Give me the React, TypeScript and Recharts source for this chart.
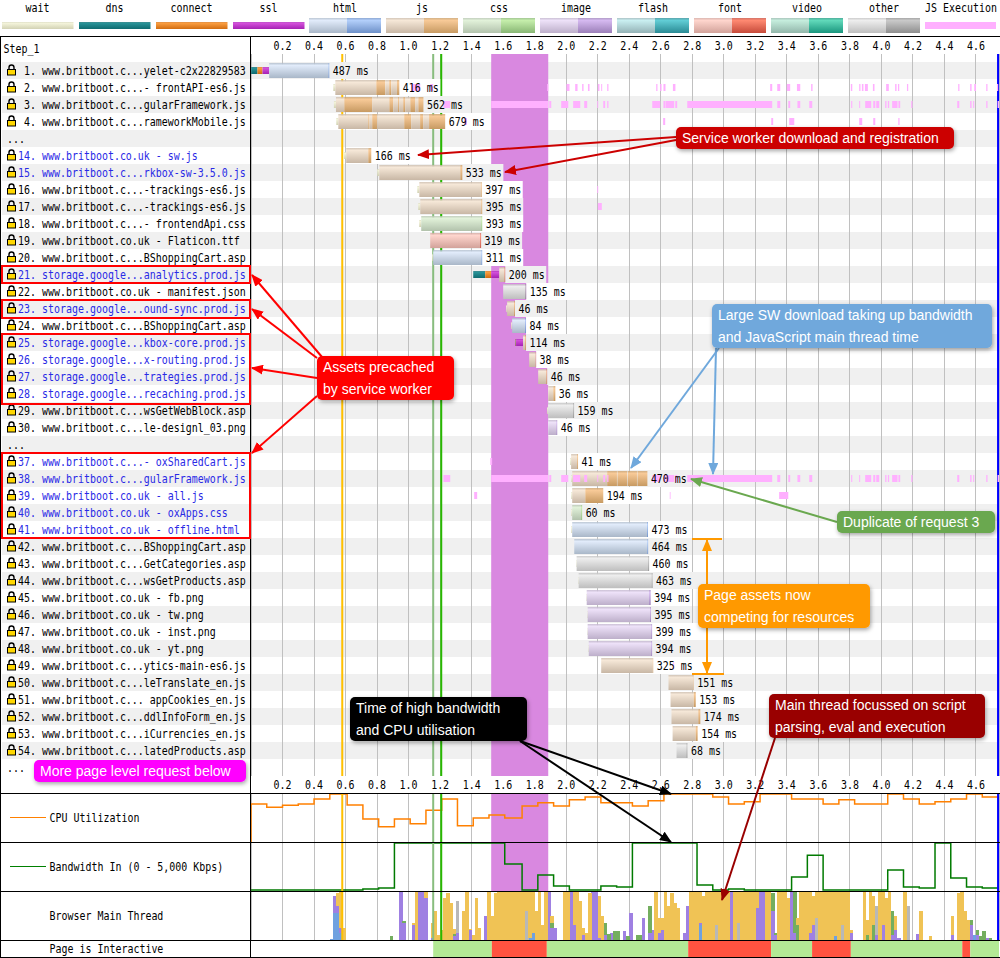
import { Bar, CartesianGrid, ComposedChart, Line, ReferenceArea, ReferenceLine, XAxis, YAxis } from 'recharts'

const axisMax = 4746
const timeTicks = [200, 400, 600, 800, 1000, 1200, 1400, 1600, 1800, 2000, 2200, 2400, 2600, 2800, 3000, 3200, 3400, 3600, 3800, 4000, 4200, 4400, 4600]

const legendThin = ['wait', 'dns', 'connect', 'ssl']
const legendTall = ['html', 'js', 'css', 'image', 'flash', 'font', 'video', 'other']

const rowLabels = [
  ' 1. www.britboot.c...yelet-c2x22829583', ' 2. www.britboot.c...- frontAPI-es6.js', ' 3. www.britboot.c...gularFramework.js', ' 4. www.britboot.c...rameworkMobile.js',
  '...',
  '14. www.britboot.co.uk - sw.js', '15. www.britboot.c...rkbox-sw-3.5.0.js', '16. www.britboot.c...-trackings-es6.js', '17. www.britboot.c...-trackings-es6.js',
  '18. www.britboot.c...- frontendApi.css', '19. www.britboot.co.uk - Flaticon.ttf', '20. www.britboot.c...BShoppingCart.asp', '21. storage.google...analytics.prod.js',
  '22. www.britboot.co.uk - manifest.json', '23. storage.google...ound-sync.prod.js', '24. www.britboot.c...BShoppingCart.asp', '25. storage.google...kbox-core.prod.js',
  '26. storage.google...x-routing.prod.js', '27. storage.google...trategies.prod.js', '28. storage.google...recaching.prod.js', '29. www.britboot.c...wsGetWebBlock.asp',
  '30. www.britboot.c...le-designl_03.png',
  '...',
  '37. www.britboot.c...- oxSharedCart.js', '38. www.britboot.c...gularFramework.js', '39. www.britboot.co.uk - all.js', '40. www.britboot.co.uk - oxApps.css',
  '41. www.britboot.co.uk - offline.html', '42. www.britboot.c...BShoppingCart.asp', '43. www.britboot.c...GetCategories.asp', '44. www.britboot.c...wsGetProducts.asp',
  '45. www.britboot.co.uk - fb.png', '46. www.britboot.co.uk - tw.png', '47. www.britboot.co.uk - inst.png', '48. www.britboot.co.uk - yt.png',
  '49. www.britboot.c...ytics-main-es6.js', '50. www.britboot.c...leTranslate_en.js', '51. www.britboot.c... appCookies_en.js', '52. www.britboot.c...ddlInfoForm_en.js',
  '53. www.britboot.c...iCurrencies_en.js', '54. www.britboot.c...latedProducts.asp',
  '...',
]
const serviceWorkerRows = [14, 15, 21, 23, 25, 26, 27, 28, 37, 38, 39, 40, 41]

const rowKinds = [
  'html', 'js', 'js', 'js', '', 'js', 'js', 'js', 'js', 'css', 'font', 'html', 'js', 'other', 'js', 'html', 'js', 'js', 'js', 'js', 'other',
  'image', '', 'js', 'js', 'js', 'css', 'html', 'html', 'other', 'other', 'image', 'image', 'image', 'image', 'js', 'js', 'js', 'js', 'js', 'other', '',
]
const durations = [
  '487 ms', '416 ms', '562 ms', '679 ms', '', '166 ms', '533 ms', '397 ms', '395 ms', '393 ms', '319 ms', '311 ms', '200 ms', '135 ms', '46 ms', '84 ms', '114 ms', '38 ms', '46 ms', '36 ms', '159 ms',
  '46 ms', '', '41 ms', '470 ms', '194 ms', '60 ms', '473 ms', '464 ms', '460 ms', '463 ms', '394 ms', '395 ms', '399 ms', '394 ms', '325 ms', '151 ms', '153 ms', '174 ms', '154 ms', '68 ms', '',
]
const requestStart = [
  1, 522, 526, 541, 0, 591, 801, 1055, 1061, 1067, 1137, 1150, 1410, 1600, 1619, 1651, 1676, 1765, 1822, 1886, 1879,
  1886, 0, 2025, 2032, 2032, 2032, 2032, 2051, 2063, 2076, 2127, 2133, 2133, 2140, 2222, 2649, 2662, 2668, 2675, 2700, 0,
]
const waitMs = [
  0, 13, 13, 13, 0, 13, 13, 13, 13, 13, 0, 6, 0, 0, 6, 6, 0, 0, 0, 0, 6,
  0, 0, 6, 6, 6, 6, 6, 0, 3, 3, 3, 3, 3, 3, 0, 0, 0, 0, 0, 0, 0,
]
const dnsMs = [40, 0, 0, 0, 0, 0, 0, 0, 0, 0, 0, 0, 76, 0, 0, 0, 3, 0, 0, 0, 0, 0, 0, 0, 0, 0, 0, 0, 0, 0, 0, 0, 0, 0, 0, 0, 0, 0, 0, 0, 0, 0]
const connectMs = [32, 0, 0, 0, 0, 0, 0, 0, 0, 0, 0, 0, 38, 0, 0, 0, 3, 0, 0, 0, 0, 0, 0, 0, 0, 0, 0, 0, 0, 0, 0, 0, 0, 0, 0, 0, 0, 0, 0, 0, 0, 0]
const sslMs = [42, 0, 0, 0, 0, 0, 0, 0, 0, 0, 0, 0, 51, 0, 0, 0, 44, 0, 0, 0, 0, 0, 0, 0, 0, 0, 0, 0, 0, 0, 0, 0, 0, 0, 0, 0, 0, 0, 0, 0, 0, 0]
// time to first byte, then download, then ttfb-coloured gaps between download chunks
const chunkMs = [
  [376, 6], [260, 57, 25, 13, 36, 15], [53, 178, 108, 25, 30, 8, 25, 13, 32, 32, 19, 32], [190, 8, 17, 32, 171, 44, 57, 19, 38, 102], [],
  [140, 19], [514, 13], [390, 6], [387, 6], [381, 6], [317, 6], [305, 6], [32, 6], [140, 6], [44, 6], [82, 6], [13, 6], [41, 3], [51, 6], [32, 13], [159, 6],
  [51, 6], [], [38, 6], [222, 62, 4, 62, 4, 57, 4, 62], [83, 114], [57, 6], [475, 6], [463, 6], [454, 6], [463, 6], [396, 10], [396, 6], [403, 6], [396, 6],
  [327, 3], [159, 2], [147, 13], [170, 13], [146, 13], [63, 6], [],
]

const frameworkExec = [
  1221, 1264, 1524, 1886, 1892, 1905, 1968, 2013, 2044, 2089, 2114, 2133, 2197, 2203, 2235, 2247, 2260, 2268, 2546, 2596, 2617, 2628, 2630, 2685, 2692, 2704, 2768, 3307,
  3339, 3358, 3409, 3421, 3467, 3485, 3542, 3561, 3808, 3815, 3859, 3865, 3897, 3935, 3948, 3961, 3967, 3986, 4024, 4032, 4041, 4049, 4068, 4102, 4108, 4119, 4189, 4197,
  4481, 4494, 4563, 4572, 4582, 4589, 4665, 4673, 4737, 4746,
]
const frontApiExec = [
  1015, 1074, 1137, 1156, 1879, 1886, 2002, 2021, 2057, 2072, 2101, 2110, 2138, 2148, 2201, 2211, 2222, 2228, 2260, 2268, 2571, 2579, 2596, 2605, 2617, 2630, 2677, 2693,
  3294, 3307, 3339, 3358, 3400, 3421, 3464, 3485, 3554, 3563, 3806, 3815, 3859, 3867, 3876, 3886, 3895, 3914, 3946, 3956, 4030, 4047, 4087, 4096, 4105, 4113, 4162, 4170,
  4487, 4495, 4563, 4572, 4589, 4600, 4665, 4673, 4733, 4741,
]
const mobileExec = [1353, 1370, 2615, 2628, 3301, 3313, 3415, 3447, 3859, 3878, 3948, 3961, 4107, 4115]
// row position -> [start, end, start, end, ...] of JS execution
const jsExecRows = [
  [1, frontApiExec], [2, frameworkExec], [3, mobileExec], [7, [2197, 2203]], [8, [2201, 2226]], [23, [1518, 1530]], [24, frameworkExec],
  [25, [1416, 1435, 2657, 2662, 3351, 3409]], [35, [2679, 2685]],
]

const sampleTimes = [0, 0, 100, 200, 300, 400, 500, 610, 710, 810, 910, 1010, 1110, 1210, 1310, 1410, 1510, 1610, 1720, 1820, 1920, 2020, 2120, 2220, 2320, 2420, 2520, 2620, 2720, 2830, 2930, 3030, 3130, 3230, 3330, 3430, 3530, 3630, 3730, 3830, 3930, 4040, 4140, 4240, 4340, 4440, 4540, 4640, 4746]
const cpuValues = [0, 77.5, 71, 75, 77.5, 88, 98, 75.5, 47, 31, 47, 37, 65, 88, 33, 49, 55, 49, 73.5, 80, 73.5, 86, 92, 80, 80, 73.5, 84, 98, 98, 98, 92, 77.5, 82, 98, 98, 88, 88, 77.5, 86, 77.5, 77.5, 98, 88, 77.5, 82, 88, 98, 92, 92]
const bandwidthValues = [100, 100, 100, 100, 100, 100, 100, 100, 200, 300, 4900, 4900, 4900, 4900, 4900, 4900, 4900, 2750, 100, 1630, 510, 100, 100, 510, 410, 4900, 4900, 4900, 4900, 610, 100, 200, 100, 100, 100, 1430, 3640, 100, 100, 100, 100, 2140, 410, 300, 4900, 1330, 410, 300, 300]

// main thread load, [20ms bin, percent]
const htmlLoad = [[25, 3], [26, 55], [27, 55], [28, 15], [88, 5], [89, 15], [142, 30], [185, 8], [229, 10]]
const layoutLoad = [[26, 35], [27, 15], [28, 10], [47, 100], [48, 35], [51, 30], [53, 100], [54, 100], [55, 85], [57, 5], [64, 8], [65, 15], [69, 20], [74, 50], [94, 100], [95, 25], [96, 25], [101, 100], [102, 30], [105, 10], [108, 100], [109, 100], [110, 5], [112, 10], [114, 15], [118, 18], [120, 55], [124, 45], [126, 15], [127, 20], [129, 15], [130, 20], [137, 15], [138, 70], [142, 5], [152, 100], [160, 65], [161, 100], [162, 100], [165, 60], [166, 10], [171, 100], [172, 15], [177, 15], [178, 30], [190, 15], [198, 10], [200, 30], [203, 10], [204, 20], [205, 5], [211, 12], [222, 10], [228, 30], [230, 10], [233, 5]]
const paintLoad = [[44, 8], [48, 3], [64, 5], [95, 10], [112, 25], [113, 12], [115, 18], [116, 18], [119, 8], [122, 10], [123, 10], [126, 55], [165, 35], [166, 5], [172, 85], [173, 30], [195, 10], [197, 30], [203, 50], [228, 10], [230, 10], [231, 8], [232, 18], [234, 5]]
const otherLoad = [[65, 65], [87, 60], [147, 30], [154, 35], [179, 45], [187, 30], [198, 60], [208, 70]]
const scriptLoad = [[27, 25], [28, 75], [29, 25], [51, 5], [52, 100], [55, 15], [57, 30], [58, 60], [59, 10], [60, 20], [61, 85], [62, 95], [63, 75], [64, 10], [67, 60], [68, 100], [69, 3], [70, 10], [71, 85], [72, 25], [75, 100], [76, 50], [77, 95], [78, 100], [79, 100], [80, 100], [81, 98], [82, 97], [83, 100], [84, 100], [85, 100], [86, 100], [87, 40], [88, 95], [89, 85], [90, 60], [91, 100], [92, 30], [93, 100], [95, 15], [99, 100], [100, 100], [102, 70], [103, 100], [104, 80], [105, 15], [106, 15], [107, 95], [110, 85], [111, 50], [128, 100], [129, 30], [130, 25], [131, 100], [132, 70], [133, 95], [134, 75], [135, 65], [139, 100], [140, 100], [141, 100], [142, 65], [143, 90], [144, 100], [145, 100], [146, 100], [147, 70], [148, 100], [149, 100], [150, 100], [151, 100], [153, 100], [154, 65], [155, 100], [156, 100], [157, 100], [158, 100], [159, 100], [160, 35], [163, 100], [164, 100], [167, 100], [168, 100], [169, 100], [170, 85], [173, 15], [174, 100], [175, 100], [176, 100], [177, 85], [178, 60], [179, 55], [180, 100], [181, 100], [182, 100], [183, 100], [184, 100], [185, 92], [186, 100], [187, 70], [188, 100], [189, 100], [190, 5], [194, 100], [195, 30], [196, 100], [197, 60], [199, 100], [200, 70], [201, 85], [202, 100], [204, 30], [207, 100], [212, 60], [215, 8], [222, 40], [224, 95], [225, 100], [226, 60], [227, 40]]

const interactiveSpans = [1156, 372, 349, 897, 526, 260, 246, 707, 51, 182]
const interactiveColors = ['none', '#b3e995', '#ff5340', '#b3e995', '#ff5340', '#b3e995', '#ff5340', '#b3e995', '#ff5340', '#b3e995']

const thinKeys = ['wait', 'dns', 'connect', 'ssl']
const chunkKeys = ['c0', 'c1', 'c2', 'c3', 'c4', 'c5', 'c6', 'c7', 'c8', 'c9', 'c10', 'c11']

const rowTable = rowLabels.map((label, i) => {
  const row: any = {
    key: i, label, kind: rowKinds[i], duration: durations[i], gap: requestStart[i], wait: waitMs[i], dns: dnsMs[i], connect: connectMs[i], ssl: sslMs[i],
    band: i % 2 === 0 ? axisMax : 0,
  }
  chunkKeys.forEach((k, c) => { row[k] = chunkMs[i][c] || 0 })
  row.end = durations[i] ? requestStart[i] + waitMs[i] + dnsMs[i] + connectMs[i] + sslMs[i] + chunkMs[i].reduce((a, b) => a + b, 0) : 0
  const spans = jsExecRows.find((r) => r[0] === i)
  let last = 0
  const list: any = spans ? spans[1] : []
  for (let j = 0; j < 33; j += 1) {
    const a = list[j * 2] || 0
    const b = list[j * 2 + 1] || 0
    row[`g${j}`] = b ? a - last : 0
    row[`x${j}`] = b ? b - a : 0
    if (b) last = b
  }
  return row
})
const execKeys = Array.from({ length: 33 }, (_, j) => j)

const tickTable = timeTicks.map((t) => ({ t }))
const cpuTable = sampleTimes.map((t, i) => ({ t, cpu: cpuValues[i] }))
const bandwidthTable = sampleTimes.map((t, i) => ({ t, bandwidth: bandwidthValues[i] }))

const loadAt = (list: number[][], bin: number) => {
  const hit = list.find((p) => p[0] === bin)
  return hit ? hit[1] : 0
}
const mainTable = Array.from({ length: 237 }, (_, bin) => ({
  t: bin * 20 + 10,
  html: loadAt(htmlLoad, bin),
  layout: loadAt(layoutLoad, bin),
  paint: loadAt(paintLoad, bin),
  other: loadAt(otherLoad, bin),
  script: loadAt(scriptLoad, bin),
}))
const interactiveTable = [Object.fromEntries([['name', 'interactive'], ...interactiveSpans.map((v, i) => [`s${i}`, v])])]

const sans = { fontFamily: '"Liberation Sans", Arial, sans-serif', fontSize: 14 }
const bandColor = '#f0f0f0'

const gradients: any = {
  wait: ['#f5f5dc', '#d2d2b4'],
  dns: ['#2a9499', '#0f6b70'],
  connect: ['#fb9f42', '#d26d10'],
  ssl: ['#d552dc', '#a522b4'],
  htmlLight: ['#e2ecfb', '#a9b7c8'],
  htmlDark: ['#b4d0fb', '#6d90c8'],
  jsLight: ['#f6e8d8', '#c8b7a5'],
  jsDark: ['#f8ca98', '#c79a62'],
  cssLight: ['#e2f2da', '#b2c2ac'],
  cssDark: ['#c6efac', '#88b674'],
  imageLight: ['#eee2f9', '#bdafca'],
  imageDark: ['#d6baf1', '#9b7fb8'],
  flashLight: ['#caf0f2', '#94b2b6'],
  flashDark: ['#62ced6', '#2a8a94'],
  fontLight: ['#ffd6ce', '#d2a29a'],
  fontDark: ['#ff8a72', '#c64a3a'],
  videoLight: ['#c6eede', '#92b6aa'],
  videoDark: ['#62dabb', '#1a967e'],
  otherLight: ['#eeeeee', '#bebebe'],
  otherDark: ['#cacaca', '#8e8e8e'],
}

// the original font is tall and narrow, 6px a character, so squeeze 12px DejaVu
const Mono = ({ x, y, anchor, fill = '#000', children }: any) => (
  <text
    transform={`translate(${x} ${y}) scale(0.8306 1)`}
    textAnchor={anchor}
    fill={fill}
    fontFamily='"DejaVu Sans Mono", monospace'
    fontSize={12}
    style={{ whiteSpace: 'pre' }}
  >
    {children}
  </text>
)

const Layer = ({ top, children }: any) => <div style={{ position: 'absolute', left: 0, top }}>{children}</div>

const WaterfallLayer = ({ children }: any) => (
  <Layer top={37}>
    <ComposedChart layout="vertical" width={1000} height={756} data={rowTable} margin={{ top: 25, right: 1, bottom: 17, left: 251 }} barCategoryGap={0}>
      <XAxis type="number" hide domain={[0, axisMax]} allowDataOverflow />
      <YAxis type="category" dataKey="key" hide />
      {children}
    </ComposedChart>
  </Layer>
)

const RowLabel = ({ y, payload }: any) => {
  const row = rowTable[payload.value]
  const number = parseInt(row.label, 10)
  const even = row.key % 2 === 0
  return (
    <g>
      {even && <rect x={2} y={y - 8.5} width={248} height={17} fill={bandColor} />}
      {row.label === '...' ? (
        <Mono x={7} y={y + 4}>...</Mono>
      ) : (
        <g>
          <path d={`M9 ${y - 1}v-2a2.5 2.5 0 0 1 5 0v2`} fill="none" stroke="#000" strokeWidth={1.4} />
          <rect x={7.5} y={y - 1} width={8} height={5.5} fill="#ffd700" stroke="#000" />
          <Mono x={18} y={y + 4} fill={serviceWorkerRows.includes(number) ? '#2a2ae6' : '#000'}>{row.label}</Mono>
        </g>
      )}
    </g>
  )
}

const RowBands = () => (
  <Layer top={37}>
    <ComposedChart layout="vertical" width={1000} height={756} data={rowTable} margin={{ top: 25, right: 1, bottom: 17, left: 0 }} barCategoryGap={0}>
      <XAxis type="number" hide domain={[0, axisMax]} />
      <YAxis type="category" dataKey="key" width={251} interval={0} axisLine={false} tickLine={false} tick={RowLabel} />
      <Bar dataKey="band" fill={bandColor} isAnimationActive={false} />
    </ComposedChart>
  </Layer>
)

const markerLines = () => [
  <ReferenceLine key="start" x={579} stroke="#ffc000" strokeWidth={2} />,
  <ReferenceLine key="dcl" x={1156} stroke="#88bd7e" strokeWidth={2} />,
  <ReferenceLine key="load" x={1207} stroke="#28b800" strokeWidth={2} />,
  <ReferenceLine key="end" x={4740} stroke="#0000ff" strokeWidth={2} />,
]

const tickText = (dy: number) => ({ x, y, payload }: any) => (
  <Mono x={x} y={y + dy} anchor="middle">{(payload.value / 1000).toFixed(1)}</Mono>
)

const WaterfallGrid = () => (
  <Layer top={54}>
    <ComposedChart width={1000} height={722} data={tickTable} margin={{ top: 0, right: 1, bottom: 0, left: 251 }}>
      <XAxis dataKey="t" type="number" hide domain={[0, axisMax]} ticks={timeTicks} interval={0} allowDataOverflow />
      <YAxis hide domain={[0, 100]} allowDataOverflow />
      <CartesianGrid horizontal={false} stroke="#c0c0c0" shapeRendering="crispEdges" />
      <ReferenceArea x1={1524} x2={1886} fill="#d988e0" fillOpacity={1} stroke="none" />
      {markerLines()}
    </ComposedChart>
  </Layer>
)

const TimeTicks = () => (
  <Layer top={37}>
    <ComposedChart width={1000} height={756} data={tickTable} margin={{ top: 16, right: 1, bottom: 16, left: 251 }}>
      <XAxis dataKey="t" orientation="top" type="number" height={1} domain={[0, axisMax]} ticks={timeTicks} interval={0} axisLine={false} tickLine={false} tick={tickText(4)} />
      <XAxis xAxisId="bottom" dataKey="t" orientation="bottom" type="number" height={1} domain={[0, axisMax]} ticks={timeTicks} interval={0} axisLine={false} tickLine={false} tick={tickText(5)} />
      <YAxis hide domain={[0, 100]} />
    </ComposedChart>
  </Layer>
)

const PanelBands = ({ top, yMax }: any) => (
  <Layer top={top}>
    <ComposedChart width={1000} height={49} data={tickTable} margin={{ top: 0, right: 1, bottom: 0, left: 251 }}>
      <XAxis dataKey="t" type="number" hide domain={[0, axisMax]} />
      <YAxis hide domain={[0, yMax]} />
      <ReferenceArea y1={yMax * 0.75} y2={yMax} fill={bandColor} fillOpacity={1} stroke="none" />
      <ReferenceArea y1={yMax * 0.25} y2={yMax * 0.5} fill={bandColor} fillOpacity={1} stroke="none" />
    </ComposedChart>
  </Layer>
)

const TimePanel = ({ top, table, purple, children, yMax = 100 }: any) => (
  <>
    <PanelBands top={top} yMax={yMax} />
    <Layer top={top}>
      <ComposedChart width={1000} height={49} data={table} margin={{ top: 0, right: 1, bottom: 0, left: 251 }} barCategoryGap={0}>
        <XAxis dataKey="t" type="number" hide domain={[0, axisMax]} ticks={timeTicks} interval={0} allowDataOverflow />
        <YAxis hide domain={[0, yMax]} allowDataOverflow />
        <CartesianGrid horizontal={false} stroke="#c0c0c0" shapeRendering="crispEdges" />
        {purple && <ReferenceArea x1={1524} x2={1886} fill="#d988e0" fillOpacity={1} stroke="none" />}
        {children}
        {markerLines()}
      </ComposedChart>
    </Layer>
  </>
)

const InteractivePanel = () => (
  <Layer top={941}>
    <ComposedChart layout="vertical" width={1000} height={16} data={interactiveTable} margin={{ top: 0, right: 1, bottom: 0, left: 251 }} barCategoryGap={0}>
      <XAxis type="number" hide domain={[0, axisMax]} allowDataOverflow />
      <YAxis type="category" dataKey="name" hide />
      {interactiveSpans.map((_, i) => (
        <Bar key={i} dataKey={`s${i}`} stackId="s" fill={interactiveColors[i]} isAnimationActive={false} />
      ))}
    </ComposedChart>
  </Layer>
)

const thinShape = (p: any, key: string) => {
  if (!(p.width > 0)) return <g />
  return <rect x={p.x} y={p.y + 5} width={p.width} height={7} fill={`url(#g-${key})`} />
}
const chunkShape = (p: any, c: number) => {
  if (!(p.width > 0) || !p.payload.kind) return <g />
  const tone = c % 2 === 0 ? 'Light' : 'Dark'
  return <rect x={p.x} y={p.y + 1} width={p.width} height={15} fill={`url(#g-${p.payload.kind}${tone})`} />
}
const labelBackdrop = (p: any) => {
  if (!p.payload.end) return <g />
  return <rect x={p.x + p.width} y={p.y} width={p.payload.duration.length * 6 + 5} height={17} fill={p.payload.key % 2 === 0 ? bandColor : '#fff'} />
}
const labelText = (p: any) => {
  if (!p.payload.end) return <g />
  return <Mono x={p.x + p.width + 3.5} y={p.y + 13}>{p.payload.duration}</Mono>
}
const execShape = (p: any) => {
  if (!(p.width > 0)) return <g />
  return <rect x={p.x} y={p.y + 5} width={p.width} height={7} fill="#ffb0ff" />
}
// one bin is a bit over 3px, the overlap stops hairline gaps between bins
const loadShape = (p: any) => {
  if (!(p.height > 0)) return <g />
  return <rect x={p.x} y={p.y} width={3.4} height={p.height} fill={p.fill} shapeRendering="crispEdges" />
}

const RequestBars = () => (
  <WaterfallLayer>
    <Bar dataKey="gap" stackId="s" fill="none" isAnimationActive={false} />
    {thinKeys.map((k) => (
      <Bar key={k} dataKey={k} stackId="s" isAnimationActive={false} shape={(p: any) => thinShape(p, k)} />
    ))}
    {chunkKeys.map((k, c) => (
      <Bar key={k} dataKey={k} stackId="s" isAnimationActive={false} shape={(p: any) => chunkShape(p, c)} />
    ))}
  </WaterfallLayer>
)
const LabelBackdrops = () => (
  <WaterfallLayer>
    <Bar dataKey="end" isAnimationActive={false} shape={labelBackdrop} />
  </WaterfallLayer>
)
const LabelTexts = () => (
  <WaterfallLayer>
    <Bar dataKey="end" isAnimationActive={false} shape={labelText} />
  </WaterfallLayer>
)
const ExecBars = () => (
  <WaterfallLayer>
    {execKeys.flatMap((j) => [
      <Bar key={`g${j}`} dataKey={`g${j}`} stackId="s" fill="none" isAnimationActive={false} />,
      <Bar key={`x${j}`} dataKey={`x${j}`} stackId="s" isAnimationActive={false} shape={execShape} />,
    ])}
  </WaterfallLayer>
)

const TopLegend = () => (
  <svg width={1000} height={37} style={{ position: 'absolute', left: 0, top: 0 }}>
    {legendThin.map((name, i) => (
      <g key={name}>
        <Mono x={37.5 + i * 77} y={12} anchor="middle">{name}</Mono>
        <rect x={2 + i * 77} y={22} width={71.5} height={7} fill={`url(#g-${name})`} />
      </g>
    ))}
    {legendTall.map((name, i) => (
      <g key={name}>
        <Mono x={345 + i * 77} y={12} anchor="middle">{name}</Mono>
        <rect x={309 + i * 77} y={18} width={38} height={15} fill={`url(#g-${name}Light)`} />
        <rect x={347 + i * 77} y={18} width={34} height={15} fill={`url(#g-${name}Dark)`} />
      </g>
    ))}
    <Mono x={961} y={12} anchor="middle">JS Execution</Mono>
    <rect x={925} y={22} width={71} height={7} fill="#ffb0ff" />
  </svg>
)

const Frame = () => (
  <svg width={1000} height={958} style={{ position: 'absolute', left: 0, top: 0 }}>
    <g stroke="#000" strokeWidth={1} shapeRendering="crispEdges">
      <line x1={0} y1={36.5} x2={1000} y2={36.5} />
      <line x1={0} y1={793.5} x2={1000} y2={793.5} />
      <line x1={0} y1={842.5} x2={1000} y2={842.5} />
      <line x1={0} y1={891.5} x2={1000} y2={891.5} />
      <line x1={0} y1={940.5} x2={1000} y2={940.5} />
      <line x1={0} y1={957.5} x2={1000} y2={957.5} />
      <line x1={0.5} y1={36} x2={0.5} y2={958} />
      <line x1={250.5} y1={36} x2={250.5} y2={958} />
    </g>
    <Mono x={3.5} y={53}>Step_1</Mono>
    <line x1={10} y1={817.5} x2={46} y2={817.5} stroke="#ff8000" />
    <Mono x={49.5} y={822}>CPU Utilization</Mono>
    <line x1={10} y1={866.5} x2={46} y2={866.5} stroke="#008000" />
    <Mono x={49.5} y={871}>Bandwidth In (0 - 5,000 Kbps)</Mono>
    <Mono x={49.5} y={920}>Browser Main Thread</Mono>
    <Mono x={49.5} y={953}>Page is Interactive</Mono>
  </svg>
)

const Callout = ({ x, y, w, h, fill, lines }: any) => (
  <g>
    <rect x={x} y={y} width={w} height={h} rx={5} fill={fill} filter="url(#callout-shadow)" />
    {lines.map((t: string, i: number) => (
      <text key={t} x={x + 6} y={y + 16 + i * 22} {...sans} fill="#fff">{t}</text>
    ))}
  </g>
)

const Arrow = ({ from, to, color }: any) => (
  <line x1={from[0]} y1={from[1]} x2={to[0]} y2={to[1]} stroke={color} strokeWidth={2} markerEnd={`url(#head-${color.slice(1)})`} />
)

const arrowColors = ['#cc0000', '#ff0000', '#6fa8dc', '#6aa84f', '#ff9900', '#000000', '#990000']

const Annotations = () => (
  <svg width={1000} height={958} style={{ position: 'absolute', left: 0, top: 0 }}>
    <defs>
      <filter id="callout-shadow" x="-10%" y="-20%" width="120%" height="150%">
        <feDropShadow dx={1} dy={2} stdDeviation={2} floodOpacity={0.35} />
      </filter>
      {arrowColors.map((c) => (
        <marker key={c} id={`head-${c.slice(1)}`} markerUnits="userSpaceOnUse" markerWidth={12} markerHeight={10} refX={11} refY={5} orient="auto">
          <path d="M0 0L12 5L0 10z" fill={c} />
        </marker>
      ))}
    </defs>
    <g fill="none" stroke="#ff0000" strokeWidth={2}>
      <rect x={2} y={266} width={248} height={17} />
      <rect x={2} y={300} width={248} height={18} />
      <rect x={2} y={334} width={248} height={70} />
      <rect x={2} y={453} width={248} height={85} />
    </g>

    <Arrow from={[676, 137]} to={[418, 155]} color="#cc0000" />
    <Arrow from={[676, 140]} to={[505, 172]} color="#cc0000" />
    <Callout x={676} y={127} w={278} h={22} fill="#cc0000" lines={['Service worker download and registration']} />

    <Arrow from={[322, 357]} to={[252, 275]} color="#ff0000" />
    <Arrow from={[317, 358]} to={[252, 309]} color="#ff0000" />
    <Arrow from={[317, 378]} to={[252, 368]} color="#ff0000" />
    <Arrow from={[317, 396]} to={[252, 453]} color="#ff0000" />
    <Callout x={317} y={356} w={137} h={44} fill="#ff0000" lines={['Assets precached', 'by service worker']} />

    <Arrow from={[719, 348]} to={[631, 468]} color="#6fa8dc" />
    <Arrow from={[716, 348]} to={[713, 474]} color="#6fa8dc" />
    <Callout x={712} y={304} w={280} h={44} fill="#6fa8dc" lines={['Large SW download taking up bandwidth', 'and JavaScript main thread time']} />

    <Arrow from={[837, 522]} to={[691, 479]} color="#6aa84f" />
    <Callout x={837} y={511} w={158} h={22} fill="#6aa84f" lines={['Duplicate of request 3']} />

    <line x1={692} y1={539} x2={722} y2={539} stroke="#ff9900" strokeWidth={2} />
    <line x1={692} y1={674} x2={724} y2={674} stroke="#ff9900" strokeWidth={2} />
    <Arrow from={[707, 590]} to={[707, 540]} color="#ff9900" />
    <Arrow from={[707, 620]} to={[707, 673]} color="#ff9900" />
    <Callout x={698} y={584} w={172} h={44} fill="#ff9900" lines={['Page assets now', 'competing for resources']} />

    <Arrow from={[520, 741]} to={[671, 794]} color="#000000" />
    <Arrow from={[520, 741]} to={[671, 842]} color="#000000" />
    <Callout x={350} y={697} w={177} h={44} fill="#000000" lines={['Time of high bandwidth', 'and CPU utilisation']} />

    <Arrow from={[775, 738]} to={[722, 900]} color="#990000" />
    <Callout x={769} y={694} w={216} h={44} fill="#990000" lines={['Main thread focussed on script', 'parsing, eval and execution']} />

    <Callout x={34} y={760} w={212} h={22} fill="#ff00ff" lines={['More page level request below']} />
  </svg>
)

export default function App() {
  return (
    <div style={{ position: 'absolute', left: 0, top: 0, width: 1000, height: 958, overflow: 'hidden', background: '#fff' }}>
      <svg width={0} height={0} style={{ position: 'absolute' }}>
        <defs>
          {Object.keys(gradients).map((k) => (
            <linearGradient key={k} id={`g-${k}`} x1="0" y1="0" x2="0" y2="1">
              <stop offset="0%" stopColor={gradients[k][1]} stopOpacity={0.75} />
              <stop offset="15%" stopColor={gradients[k][0]} />
              <stop offset="100%" stopColor={gradients[k][1]} />
            </linearGradient>
          ))}
        </defs>
      </svg>
      <TopLegend />
      <RowBands />
      <WaterfallGrid />
      <TimeTicks />
      <LabelBackdrops />
      <RequestBars />
      <ExecBars />
      <LabelTexts />
      <TimePanel top={793} table={cpuTable} purple>
        <Line dataKey="cpu" type="stepAfter" stroke="#ff8000" strokeWidth={1.5} dot={false} isAnimationActive={false} />
      </TimePanel>
      <TimePanel top={842} table={bandwidthTable} purple yMax={5000}>
        <Line dataKey="bandwidth" type="stepAfter" stroke="#007a00" strokeWidth={1.5} dot={false} isAnimationActive={false} />
      </TimePanel>
      <TimePanel top={891} table={mainTable}>
        <Bar dataKey="html" stackId="m" fill="#6fa1e0" isAnimationActive={false} shape={loadShape} />
        <Bar dataKey="layout" stackId="m" fill="#9f80e2" isAnimationActive={false} shape={loadShape} />
        <Bar dataKey="paint" stackId="m" fill="#74ae5f" isAnimationActive={false} shape={loadShape} />
        <Bar dataKey="other" stackId="m" fill="#b8b8b8" isAnimationActive={false} shape={loadShape} />
        <Bar dataKey="script" stackId="m" fill="#f0c355" isAnimationActive={false} shape={loadShape} />
      </TimePanel>
      <InteractivePanel />
      <Frame />
      <Annotations />
    </div>
  )
}
